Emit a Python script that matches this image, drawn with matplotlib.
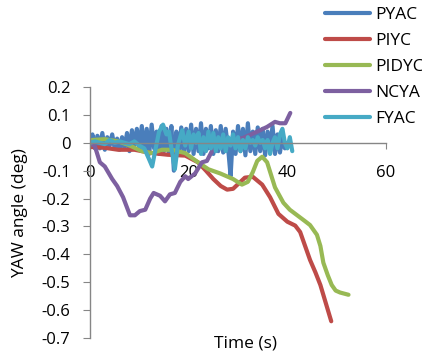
import numpy as np
import matplotlib
matplotlib.use("Agg")
import matplotlib.pyplot as plt

# ---- data ----
pyac_dt = 0.5
pyac_y = [0.0, 0.03, -0.02, 0.025, -0.02, 0.035, -0.025, 0.02, -0.01, 0.03, -0.02,
          0.015, -0.025, 0.02, -0.02, 0.035, -0.03, 0.045, -0.01, 0.05, -0.02,
          0.06, -0.03, 0.05, -0.04, 0.065, -0.02, 0.04, -0.04, 0.06, -0.03,
          0.05, -0.04, 0.06, -0.1, 0.04, -0.03, 0.055, -0.04, 0.05,
          -0.03, 0.065, -0.04, 0.05, -0.03, 0.07, -0.04, 0.05, -0.02, 0.06,
          -0.04, 0.045, -0.03, 0.06, -0.035, 0.05, -0.02, -0.12, 0.04,
          -0.04, 0.06, -0.03, 0.05, -0.045, 0.07, -0.03, 0.04, -0.04, 0.055,
          -0.03, 0.05, -0.045, 0.04, -0.02, 0.06, -0.04, 0.03, -0.035, 0.02, -0.02]

piyc_t = [0, 3, 5.7, 9, 12.6, 15.8, 19.3, 21.9, 23.5, 25, 26.5, 27.8, 29, 30.2,
          31.4, 33, 34.9, 36.5, 38.2, 40, 41.6, 42.6, 43.6, 44.6, 45.7, 46.7,
          47.8, 48.9]
piyc_y = [-0.015, -0.018, -0.025, -0.025, -0.037, -0.043, -0.046, -0.07, -0.10,
          -0.13, -0.155, -0.168, -0.165, -0.145, -0.125, -0.122, -0.15, -0.195,
          -0.255, -0.283, -0.297, -0.32, -0.37, -0.42, -0.465, -0.51, -0.575, -0.64]

pidyc_t = [0.4, 3, 5.7, 7.7, 10.5, 12.6, 14.6, 16.6, 19.3, 21.9, 24, 26.4, 29,
           30.8, 32, 33, 33.9, 34.9, 35.9, 36.7, 37.5, 39.2, 40.5, 42, 43.5, 44.6,
           46, 46.7, 47.3, 48.2, 49, 49.8, 50.7, 52.4]
pidyc_y = [0.01, 0.013, 0.005, -0.007, -0.03, -0.037, -0.025, -0.025, -0.037,
           -0.07, -0.095, -0.11, -0.13, -0.15, -0.14, -0.105, -0.065, -0.05,
           -0.07, -0.115, -0.16, -0.215, -0.24, -0.26, -0.28, -0.295, -0.33,
           -0.37, -0.43, -0.475, -0.51, -0.53, -0.537, -0.545]

ncya_t = [0, 1, 2, 3, 4.5, 5.5, 6.7, 8.1, 9.1, 10.1, 11.2, 12.2, 12.9, 14.2, 15.2,
          16.2, 17.2, 18.3, 19.3, 19.9, 21.3, 22.7, 23.7, 25, 26.4, 28.4, 31,
          33.9, 35.9, 37.5, 38.5, 39.6, 40.6]
ncya_y = [0.0, -0.013, -0.07, -0.085, -0.13, -0.155, -0.195, -0.26, -0.26, -0.245,
          -0.24, -0.20, -0.18, -0.19, -0.21, -0.185, -0.18, -0.14, -0.12, -0.13,
          -0.11, -0.07, -0.065, -0.02, 0.01, 0.01, 0.017, 0.04, 0.057, 0.075,
          0.07, 0.07, 0.107]

fyac_t = [0, 1, 2, 3, 4, 5, 6, 7, 8, 9, 10, 11, 12, 12.6, 13.2, 14, 14.8, 15.5,
          16, 16.6, 17.2, 17.8, 18.7, 19.3, 20, 20.5, 21, 21.5, 22, 22.5, 23,
          23.5, 24, 24.5, 25, 25.5, 26, 26.5, 27, 27.5, 28, 28.5, 29, 29.5, 30,
          30.5, 31, 31.5, 32, 32.5, 33, 33.5, 34, 34.5, 35, 35.5, 36, 36.5, 37,
          37.5, 38, 38.5, 39, 39.5, 40, 40.5, 41]
fyac_y = [0, 0.005, 0, -0.005, 0.01, 0, 0.005, 0, -0.005, 0.005, -0.01, -0.02,
          -0.06, -0.085, -0.03, 0.04, 0.065, 0.03, 0.04, -0.03, -0.095, -0.01,
          0.045, -0.01, 0.04, -0.02, 0.03, 0.0, 0.035, -0.04, 0.02, -0.03, 0.04,
          -0.02, 0.035, -0.03, 0.02, -0.02, 0.03, -0.03, 0.02, -0.01, 0.03,
          -0.02, 0.02, -0.03, 0.01, -0.02, 0.02, 0.0, 0.01, -0.01, 0.02, 0.0, 0.01,
          -0.02, 0.01, -0.04, 0.0, 0.02, -0.02, 0.03, 0.05, 0.0, -0.02, 0.02, -0.03]

labels = ["PYAC", "PIYC", "PIDYC", "NCYA", "FYAC"]
colors = ["#4A7EBB", "#BE4B48", "#98B954", "#7D60A0", "#46AAC5"]

plt.rcParams.update({"font.family": ["Open Sans", "DejaVu Sans"], "font.size": 12})

fig = plt.figure(figsize=(4.22, 3.58), dpi=100)
ax = fig.add_axes([90/422, 20/358, 296/422, 251/358])

pyac_t = np.arange(len(pyac_y)) * pyac_dt
kw = dict(lw=3.0, solid_joinstyle="round", solid_capstyle="round")
ax.plot(pyac_t, pyac_y, color=colors[0], label=labels[0], **kw)
ax.plot(piyc_t, piyc_y, color=colors[1], label=labels[1], **kw)
ax.plot(pidyc_t, pidyc_y, color=colors[2], label=labels[2], **kw)
ax.plot(ncya_t, ncya_y, color=colors[3], label=labels[3], **kw)
ax.plot(fyac_t, fyac_y, color=colors[4], label=labels[4], **kw)

ax.set_xlim(0, 60)
ax.set_ylim(-0.7, 0.2)
ax.set_xticks([0, 20, 40, 60])
ax.set_yticks(np.round(np.arange(-0.7, 0.21, 0.1), 1))
ax.set_yticklabels(["-0.7", "-0.6", "-0.5", "-0.4", "-0.3", "-0.2", "-0.1", "0", "0.1", "0.2"])
for s in ("top", "right"):
    ax.spines[s].set_visible(False)
ax.spines["bottom"].set_position(("data", 0))
for s in ("left", "bottom"):
    ax.spines[s].set_color("#868686")
    ax.spines[s].set_linewidth(1.0)
ax.tick_params(axis="y", length=5, color="#868686", pad=9, labelsize=12)
ax.tick_params(axis="x", length=4, color="#868686", pad=12, labelsize=12)
ax.patch.set_alpha(0)

fig.text(20/422, 1 - 213/358, "YAW angle (deg)", rotation=90, ha="center", va="center", fontsize=12.5)
fig.text(246/422, 1 - 343/358, "Time (s)", ha="center", va="center", fontsize=12.5)

leg = fig.legend(loc="upper left", bbox_to_anchor=(325/422, 1 - 7/358), frameon=False,
                 borderpad=0, handlelength=2.6, handletextpad=0.3, labelspacing=0.56,
                 fontsize=12.5, borderaxespad=0)
for h in leg.legend_handles:
    h.set_solid_capstyle("round")

fig.savefig("out.png", dpi=100)
